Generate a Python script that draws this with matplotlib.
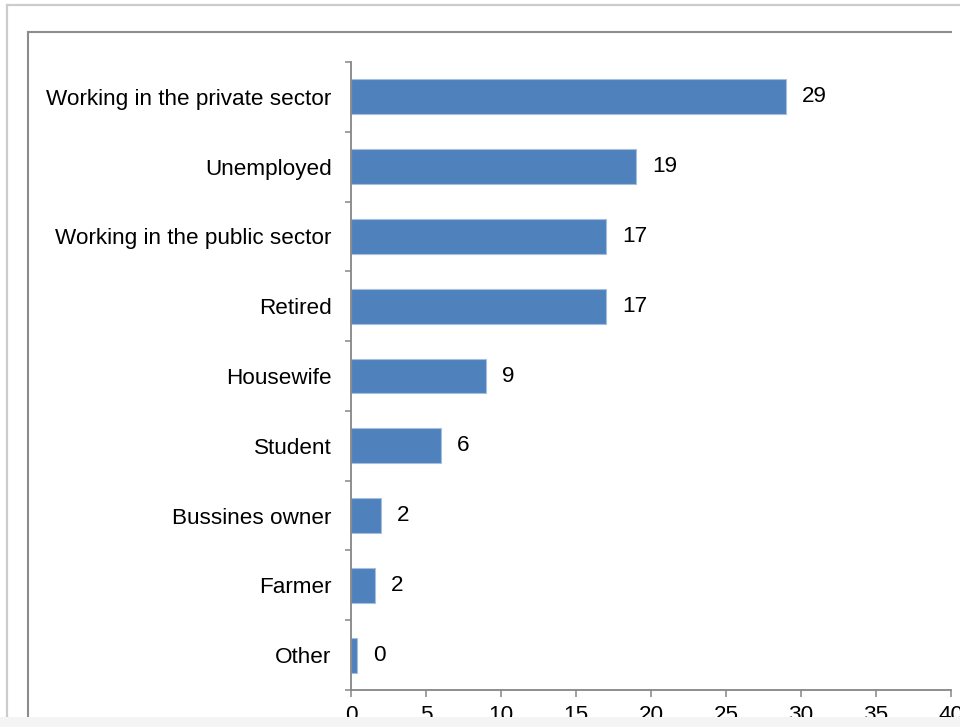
import numpy as np
import matplotlib.pyplot as plt
from matplotlib.lines import Line2D
from matplotlib.patches import Rectangle

plt.rcParams['font.family'] = ['Liberation Sans', 'DejaVu Sans']

# occupation of respondents (%)
categories = ["Working in the private sector", "Unemployed", "Working in the public sector",
              "Retired", "Housewife", "Student", "Bussines owner", "Farmer", "Other"]
values = [29, 19, 17, 17, 9, 6, 2, 1.6, 0.4]
xticks = [0, 5, 10, 15, 20, 25, 30, 35, 40]

W, H = 960, 727
fig = plt.figure(figsize=(W/100, H/100), dpi=100)
ax = fig.add_axes([351/W, 1-690/H, 600/W, 628/H])

ypos = np.arange(len(categories))
bars = ax.barh(ypos, values, height=0.5, color='#4f81bd', edgecolor='#a7bfdf', linewidth=0.8)
ax.bar_label(bars, labels=[f"{v:.0f}" for v in values], padding=11.5, fontsize=16.2)

ax.set_xlim(0, 40)
ax.set_ylim(len(categories)-0.5, -0.5)
ax.set_xticks(xticks)
ax.set_yticks(ypos)
ax.set_yticklabels(categories)
ax.set_yticks(np.arange(len(categories)+1)-0.5, minor=True)

axcol = '#868686'
for s in ['top', 'right']:
    ax.spines[s].set_visible(False)
for s in ['left', 'bottom']:
    ax.spines[s].set_color(axcol)
    ax.spines[s].set_linewidth(1.3)
ax.tick_params(axis='y', which='major', length=0, pad=14, labelsize=16.2)
ax.tick_params(axis='y', which='minor', length=4.5, width=1.1, color=axcol)
ax.tick_params(axis='x', length=5, width=1.1, color=axcol, pad=6, labelsize=16.2)

# chart frames
def fline(x0, y0, x1, y1, col, lw):
    fig.add_artist(Line2D([x0/W, x1/W], [1-y0/H, 1-y1/H], transform=fig.transFigure,
                          color=col, linewidth=lw, zorder=5))

fline(7, 5, 960, 5, '#cccccc', 1.6)
fline(7, 5, 7, 727, '#cccccc', 1.6)
fline(28, 32, 951, 32, '#8c8c8c', 1.5)
fline(28, 32, 28, 717, '#8c8c8c', 1.5)

# cut-off strip at the bottom
fig.add_artist(Rectangle((0, 0), 1, 10/H, transform=fig.transFigure,
                         facecolor='#f4f4f4', edgecolor='none', zorder=10))
fline(7, 717, 7, 727, '#cccccc', 1.6)

fig.savefig('out.png', dpi=100)
